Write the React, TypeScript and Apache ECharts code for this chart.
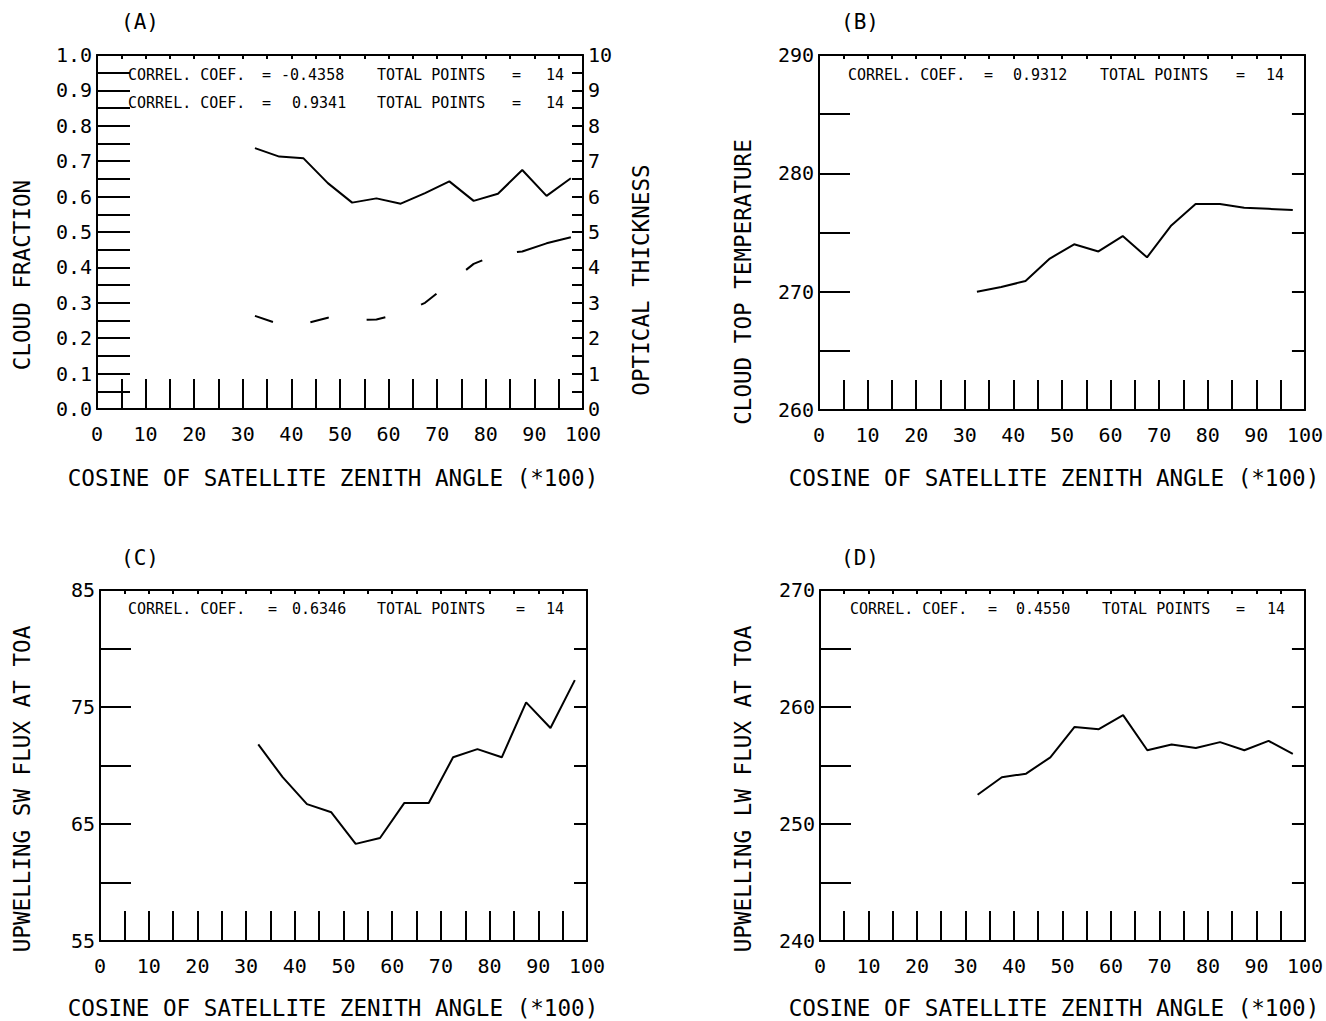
import React, { useEffect, useRef } from "react";
import * as echarts from "echarts";

const cosBins = [32.5, 37.5, 42.5, 47.5, 52.5, 57.5, 62.5, 67.5, 72.5, 77.5, 82.5, 87.5, 92.5, 97.5];
const cloudFraction = [0.737, 0.713, 0.708, 0.638, 0.583, 0.595, 0.58, 0.61, 0.643, 0.588, 0.608, 0.675, 0.602, 0.652];
const opticalThickness = [2.63, 2.4, 2.4, 2.58, 2.5, 2.53, 2.7, 3.0, 3.55, 4.1, 4.38, 4.45, 4.68, 4.85];
const cloudTopTemp = [270.0, 270.4, 270.9, 272.8, 274.0, 273.4, 274.7, 272.9, 275.6, 277.4, 277.4, 277.1, 277.0, 276.9];
const swFlux = [71.8, 69.0, 66.7, 66.0, 63.3, 63.8, 66.8, 66.8, 70.7, 71.4, 70.7, 75.4, 73.2, 77.3];
const lwFlux = [252.5, 254.0, 254.3, 255.7, 258.3, 258.1, 259.3, 256.3, 256.8, 256.5, 257.0, 256.3, 257.1, 256.0];

const xTitle = "COSINE OF SATELLITE ZENITH ANGLE (*100)";
const panelLetters = ["(A)", "(B)", "(C)", "(D)"];
const yTitles = ["CLOUD FRACTION", "OPTICAL THICKNESS", "CLOUD TOP TEMPERATURE", "UPWELLING SW FLUX AT TOA", "UPWELLING LW FLUX AT TOA"];

const MONO = "DejaVu Sans Mono";
const BLACK = "#000";
const tickLine = { color: BLACK, width: 2 };

const grids = [
  { left: 97, top: 55, width: 486, height: 354 },
  { left: 819, top: 55, width: 489, height: 355 },
  { left: 100, top: 590, width: 487, height: 351 },
  { left: 820, top: 590, width: 487, height: 351 },
];

function xAxes(g: number) {
  return [
    {
      type: "value", gridIndex: g, min: 0, max: 100, interval: 10, position: "bottom",
      axisLine: { show: true, onZero: false, lineStyle: { color: BLACK, width: 2 } },
      axisTick: { show: true, inside: true, length: 30, lineStyle: tickLine },
      minorTick: { show: true, splitNumber: 2, length: 30, lineStyle: tickLine },
      splitLine: { show: false }, minorSplitLine: { show: false },
      axisLabel: { margin: 15, fontFamily: MONO, fontSize: 20, color: BLACK },
    },
    {
      type: "value", gridIndex: g, min: 0, max: 100, interval: 10, position: "top",
      axisLine: { show: true, onZero: false, lineStyle: { color: BLACK, width: 2 } },
      axisTick: { show: true, inside: true, length: 4, lineStyle: tickLine },
      minorTick: { show: true, splitNumber: 2, length: 4, lineStyle: tickLine },
      splitLine: { show: false }, minorSplitLine: { show: false },
      axisLabel: { show: false },
    },
  ];
}

function leftY(g: number, min: number, max: number, interval: number, len: number, fmt?: (v: number) => string) {
  return {
    type: "value", gridIndex: g, min, max, interval, position: "left",
    axisLine: { show: true, onZero: false, lineStyle: { color: BLACK, width: 2 } },
    axisTick: { show: true, inside: true, length: len, lineStyle: tickLine },
    minorTick: { show: true, splitNumber: 2, length: len, lineStyle: tickLine },
    splitLine: { show: false }, minorSplitLine: { show: false },
    axisLabel: { margin: 5, fontFamily: MONO, fontSize: 20, color: BLACK, formatter: fmt },
  };
}

function rightY(g: number, min: number, max: number, interval: number, len: number, labels: boolean, minor: boolean) {
  return {
    type: "value", gridIndex: g, min, max, interval, position: "right",
    axisLine: { show: true, onZero: false, lineStyle: { color: BLACK, width: 2 } },
    axisTick: { show: true, inside: true, length: len, lineStyle: tickLine },
    minorTick: { show: minor, splitNumber: 2, length: len, lineStyle: tickLine },
    splitLine: { show: false }, minorSplitLine: { show: false },
    axisLabel: { show: labels, margin: 5, fontFamily: MONO, fontSize: 20, color: BLACK },
  };
}

function lineSeries(xi: number, yi: number, vals: number[], dash?: number[]) {
  return {
    type: "line", xAxisIndex: xi, yAxisIndex: yi,
    data: cosBins.map((x, i) => [x, vals[i]]),
    showSymbol: false, symbol: "none",
    lineStyle: { color: BLACK, width: 2, type: dash ? dash : "solid" },
    z: 5,
  };
}

function txt(x: number, y: number, text: string, size: number, align = "left", rotation = 0) {
  return {
    type: "text", x, y, rotation,
    style: { text, font: `${size}px "${MONO}"`, fill: BLACK, textAlign: align, textVerticalAlign: "middle" },
    z: 10,
  };
}

function annot(y: number, parts: [number, string][]) {
  return parts.map(([x, s]) => txt(x, y, s, 15));
}

export default function App() {
  const ref = useRef<HTMLDivElement>(null);
  useEffect(() => {
    if (!ref.current) return;
    const chart = echarts.init(ref.current, null, { renderer: "svg" });
    const graphics: any[] = [
      txt(140, 22, panelLetters[0], 21, "center"),
      txt(860, 22, panelLetters[1], 21, "center"),
      txt(140, 558, panelLetters[2], 21, "center"),
      txt(860, 558, panelLetters[3], 21, "center"),
      txt(333, 478, xTitle, 22.6, "center"),
      txt(1054, 478, xTitle, 22.6, "center"),
      txt(333, 1008, xTitle, 22.6, "center"),
      txt(1054, 1008, xTitle, 22.6, "center"),
      txt(22, 275, yTitles[0], 22.6, "center", Math.PI / 2),
      txt(641, 280, yTitles[1], 22.6, "center", Math.PI / 2),
      txt(743, 282, yTitles[2], 22.6, "center", Math.PI / 2),
      txt(22, 789, yTitles[3], 22.6, "center", Math.PI / 2),
      txt(743, 789, yTitles[4], 22.6, "center", Math.PI / 2),
      ...annot(75, [[128, "CORREL. COEF."], [262, "="], [281, "-0.4358"], [377, "TOTAL POINTS"], [512, "="], [546, "14"]]),
      ...annot(103, [[128, "CORREL. COEF."], [262, "="], [292, "0.9341"], [377, "TOTAL POINTS"], [512, "="], [546, "14"]]),
      ...annot(75, [[848, "CORREL. COEF."], [984, "="], [1013, "0.9312"], [1100, "TOTAL POINTS"], [1236, "="], [1266, "14"]]),
      ...annot(609, [[128, "CORREL. COEF."], [268, "="], [292, "0.6346"], [377, "TOTAL POINTS"], [516, "="], [546, "14"]]),
      ...annot(609, [[850, "CORREL. COEF."], [988, "="], [1016, "0.4550"], [1102, "TOTAL POINTS"], [1236, "="], [1267, "14"]]),
    ];
    chart.setOption({
      animation: false,
      backgroundColor: "#fff",
      grid: grids,
      xAxis: [...xAxes(0), ...xAxes(1), ...xAxes(2), ...xAxes(3)],
      yAxis: [
        leftY(0, 0, 1, 0.1, 33, (v: number) => v.toFixed(1)),
        rightY(0, 0, 10, 1, 11, true, true),
        leftY(1, 260, 290, 10, 31),
        rightY(1, 260, 290, 5, 13, false, false),
        leftY(2, 55, 85, 10, 31),
        rightY(2, 55, 85, 5, 13, false, false),
        leftY(3, 240, 270, 10, 31),
        rightY(3, 240, 270, 5, 13, false, false),
      ],
      series: [
        lineSeries(0, 0, cloudFraction),
        lineSeries(0, 1, opticalThickness, [19, 38, 19, 38, 19, 38, 19, 38, 19, 36, 70, 60]),
        lineSeries(2, 2, cloudTopTemp),
        lineSeries(4, 4, swFlux),
        lineSeries(6, 6, lwFlux),
      ],
      graphic: graphics,
    });
    return () => chart.dispose();
  }, []);
  return (
    <div
      ref={ref}
      style={{ position: "absolute", left: 0, top: 0, width: 1326, height: 1021, background: "#fff" }}
    />
  );
}
